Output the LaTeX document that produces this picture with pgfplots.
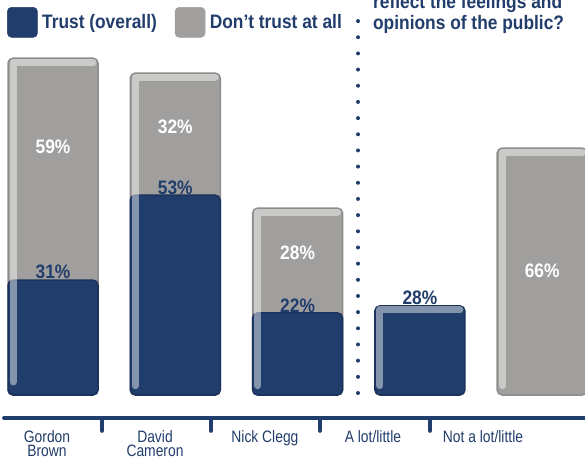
\documentclass[border=0pt]{standalone}
\usepackage{pgfplots}
\pgfplotsset{compat=1.18}
\usepackage{fontspec}
\setmainfont{Liberation Sans}
\newfontfamily\cfb[FakeStretch=0.89]{Liberation Sans Bold}
\newfontfamily\cfl[FakeStretch=0.84]{Liberation Sans}
\definecolor{navy}{HTML}{213D6B}
\definecolor{navyd}{HTML}{1B335C}
\definecolor{gry}{HTML}{A09F9E}
\definecolor{gryd}{HTML}{8E8D8C}
\begin{document}
\begin{tikzpicture}
\begin{axis}[
  scale only axis, width=585pt, height=461pt,
  xmin=-0.4334, xmax=4.3500, ymin=-17.694, ymax=105.898,
  hide axis, clip=true,
  legend style={at={(rel axis cs:0.012,0.985)}, anchor=north west, draw=none, fill=none,
    legend columns=2, font=\cfb\fontsize{19.5}{22}\selectfont, text=navy,
    /tikz/every odd column/.append style={column sep=2.5pt},
    /tikz/every even column/.append style={column sep=16pt}, inner sep=0pt},
  legend cell align=left,
]
\addlegendimage{legend image code/.code={\fill[navy, rounded corners=4pt] (0pt,-15pt) rectangle (30pt,15pt);}}
\addlegendentry{Trust (overall)}
\addlegendimage{legend image code/.code={\fill[gry, rounded corners=4pt] (0pt,-15pt) rectangle (30pt,15pt);}}
\addlegendentry{Don’t trust at all}

% grey bars (don't trust, stacked total)
\addplot[ybar, bar width=90pt, bar shift=0pt, fill=gry, draw=gryd, line width=1.5pt, rounded corners=5pt]
  coordinates {(0,90.3) (1,86.3) (2,50.1) (4,66.2)};
% blue bars (trust)
\addplot[ybar, bar width=90pt, bar shift=0pt, fill=navy, draw=navyd, line width=1.5pt, rounded corners=5pt]
  coordinates {(0,30.8) (1,53.6) (2,22.0) (3,23.9)};

% highlights
\pgfplotsset{hl/.style={sharp plot, no marks, white, opacity=0.45, line width=7pt, line cap=round, line join=round}}
\addplot[hl] coordinates {(-0.327,3.5) (-0.327,89.2) (0.327,89.2)};
\addplot[hl] coordinates {(0.673,2.5) (0.673,85.2) (1.327,85.2)};
\addplot[hl] coordinates {(1.673,2.5) (1.673,49.0) (2.327,49.0)};
\addplot[hl] coordinates {(2.673,2.5) (2.673,22.8) (3.327,22.8)};
\addplot[hl] coordinates {(3.673,2.5) (3.673,65.1) (4.327,65.1)};

% dotted separator
\addplot[sharp plot, no marks, navy, line width=4pt, line cap=round, dash pattern=on 0pt off 16.17pt]
  coordinates {(2.494,0.54) (2.494,104.56)};

% x axis line and ticks
\addplot[sharp plot, no marks, navy, line width=4pt, line cap=round] coordinates {(-0.40,-6.17) (4.5,-6.17)};
\addplot[sharp plot, no marks, navy, line width=4pt, line cap=round] coordinates {(0.401,-6.17) (0.401,-9.6)};
\addplot[sharp plot, no marks, navy, line width=4pt, line cap=round] coordinates {(1.292,-6.17) (1.292,-9.6)};
\addplot[sharp plot, no marks, navy, line width=4pt, line cap=round] coordinates {(2.183,-6.17) (2.183,-9.6)};
\addplot[sharp plot, no marks, navy, line width=4pt, line cap=round] coordinates {(3.083,-6.17) (3.083,-9.6)};

% value labels
\tikzset{wl/.style={text=white, font=\cfb\fontsize{19.5}{20}\selectfont, inner sep=0pt},
         bl/.style={text=navy, font=\cfb\fontsize{19.5}{20}\selectfont, inner sep=0pt},
         xl/.style={text=navy, font=\cfl\fontsize{16.5}{18}\selectfont, inner sep=0pt, anchor=base}}
\node[wl] at (axis cs:0,66.5) {59\%};
\node[wl] at (axis cs:1,71.8) {32\%};
\node[wl] at (axis cs:2,38.1) {28\%};
\node[wl] at (axis cs:4,33.2) {66\%};
\node[bl] at (axis cs:0,33.0) {31\%};
\node[bl] at (axis cs:1,55.5) {53\%};
\node[bl] at (axis cs:2,23.9) {22\%};
\node[bl] at (axis cs:3,26.0) {28\%};

% title (cut at top)
\node[text=navy, font=\cfb\fontsize{19.5}{20}\selectfont, inner sep=0pt, anchor=base west] at (axis cs:2.616,103.75) {reflect the feelings and};
\node[text=navy, font=\cfb\fontsize{19.5}{20}\selectfont, inner sep=0pt, anchor=base west] at (axis cs:2.616,98.1) {opinions of the public?};

% category labels
\node[xl] at (axis cs:-0.049,-12.6) {Gordon};
\node[xl] at (axis cs:-0.049,-16.6) {Brown};
\node[xl] at (axis cs:0.834,-12.6) {David};
\node[xl] at (axis cs:0.834,-16.6) {Cameron};
\node[xl] at (axis cs:1.733,-12.6) {Nick Clegg};
\node[xl] at (axis cs:2.616,-12.6) {A lot/little};
\node[xl] at (axis cs:3.516,-12.6) {Not a lot/little};
\end{axis}
\pgfresetboundingbox
\useasboundingbox (current axis.south west) rectangle (current axis.north east);
\end{tikzpicture}
\end{document}
